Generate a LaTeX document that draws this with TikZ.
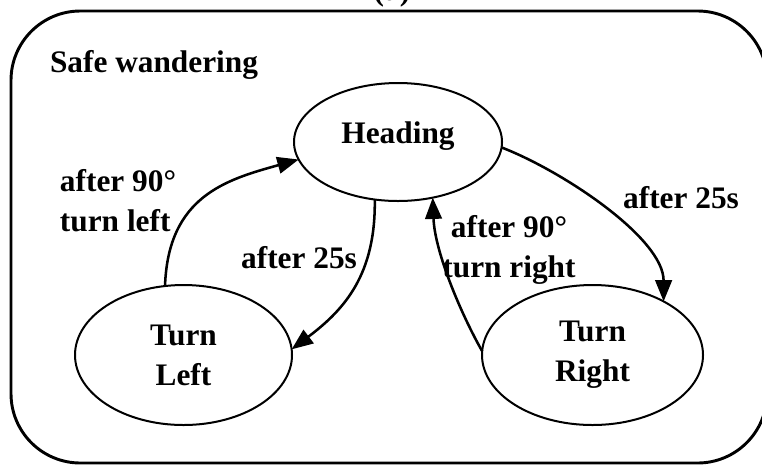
\documentclass[tikz,border=0pt]{standalone}
\usepackage{fontspec}
\setmainfont{Liberation Serif}
\usetikzlibrary{arrows.meta,shapes.geometric,calc}
\begin{document}
\begin{tikzpicture}[x=0.75pt,y=-0.75pt,
  every node/.style={font=\fontsize{23.5}{30}\selectfont\bfseries, inner sep=0pt, outer sep=0pt},
  state/.style={draw, ellipse, line width=1.5pt},
  trans/.style={line width=1.9pt, -{Triangle[length=16pt,width=12.5pt]}},
  lbl/.style={align=center},
  lbll/.style={align=left}]
\clip (0,0) rectangle (762,465);
\draw[line width=2.2pt, rounded corners=52pt] (11,11) rectangle (767,463);
\node[anchor=base] (cap) at (392,0) {(a)};
\node[anchor=base west] (sw) at (50,72) {Safe wandering};
\node[state, minimum width=156pt, minimum height=88.5pt] (H) at (398,142) {\raisebox{-0.75pt}[0pt][0pt]{Heading}};
\node[state, minimum width=162.75pt, minimum height=105pt, align=center] (TL) at (183.5,355) {Turn\\Left};
\node[state, minimum width=165.75pt, minimum height=105pt, align=center] (TR) at (592.5,355) {Turn\\Right};
\draw[trans] (TL.105) .. controls ($(TL.105)+(3,-90)$) and ($(H.190)+(-72,20)$) .. (H.190);
\draw[trans] (H.248) .. controls ($(H.248)+(1,75)$) and ($(TL.3)+(53,-40)$) .. (TL.3);
\draw[trans] (H.-3) .. controls ($(H.-3)+(62,24)$) and ($(TR.37)+(0,-63)$) .. (TR.37);
\draw[trans] (TR.178) .. controls ($(TR.178)+(-20,-35)$) and ($(H.-58)+(2,55)$) .. (H.-58);
\node[lbll] (l1) at (118,200.5) {after 90°\\turn left};
\node (l2) at (299,257.5) {after 25s};
\node[lbl] (l3) at (509,250) {after 90°\\turn right};
\node (l4) at (681,197.5) {after 25s};
\end{tikzpicture}
\end{document}
